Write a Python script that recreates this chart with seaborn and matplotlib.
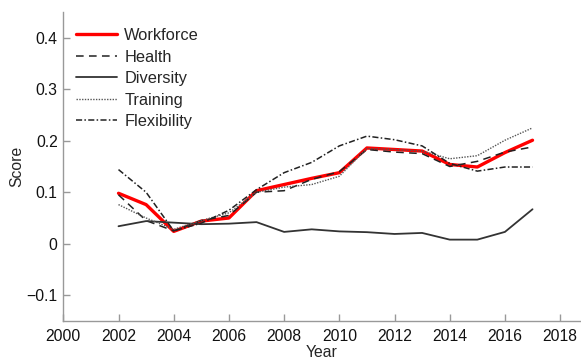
import matplotlib
matplotlib.use("Agg")
import matplotlib.pyplot as plt
import seaborn as sns
import pandas as pd
from matplotlib.ticker import FuncFormatter

years = list(range(2002, 2018))
workforce = [0.098, 0.076, 0.024, 0.044, 0.050, 0.103, 0.115, 0.127, 0.138, 0.186, 0.183, 0.180, 0.154, 0.149, 0.177, 0.201]
health = [0.095, 0.045, 0.025, 0.045, 0.055, 0.100, 0.103, 0.125, 0.140, 0.183, 0.178, 0.175, 0.150, 0.160, 0.178, 0.188]
diversity = [0.034, 0.044, 0.041, 0.038, 0.039, 0.042, 0.023, 0.028, 0.024, 0.0225, 0.019, 0.021, 0.008, 0.008, 0.023, 0.067]
training = [0.076, 0.050, 0.028, 0.045, 0.060, 0.100, 0.110, 0.115, 0.131, 0.185, 0.183, 0.180, 0.165, 0.171, 0.201, 0.225]
flexibility = [0.144, 0.100, 0.025, 0.040, 0.065, 0.105, 0.138, 0.158, 0.190, 0.209, 0.202, 0.190, 0.156, 0.141, 0.149, 0.149]

series_names = ["Workforce", "Health", "Diversity", "Training", "Flexibility"]
series_values = [workforce, health, diversity, training, flexibility]
x_ticks = [2000, 2002, 2004, 2006, 2008, 2010, 2012, 2014, 2016, 2018]
y_ticks = [-0.1, 0, 0.1, 0.2, 0.3, 0.4]

sns.set_style("white")
plt.rcParams["font.family"] = ["Liberation Sans", "DejaVu Sans"]

fig = plt.figure(figsize=(5.81, 3.60), dpi=100)
ax = fig.add_axes([63.3 / 581, (360 - 321) / 360, (580 - 63.3) / 581, (321 - 12) / 360])

styles = {
    "Workforce": dict(color="#ff0000", lw=2.4, dashes=(None, None)),
    "Health": dict(color="#222222", lw=1.1, dashes=(5, 3.5)),
    "Diversity": dict(color="#333333", lw=1.3, dashes=(None, None)),
    "Training": dict(color="#555555", lw=1.0, dashes=(1, 1)),
    "Flexibility": dict(color="#222222", lw=1.1, dashes=(4, 1.5, 1, 1.5)),
}

for name, vals in zip(series_names, series_values):
    df = pd.DataFrame({"Year": years, "Score": vals})
    st = styles[name]
    line_ax = sns.lineplot(data=df, x="Year", y="Score", ax=ax, color=st["color"],
                           linewidth=st["lw"], label=name)
    ln = line_ax.get_lines()[-1]
    if st["dashes"][0] is not None:
        ln.set_dashes(st["dashes"])

ax.set_xlim(2000, 2018.72)
ax.set_ylim(-0.15, 0.45)
ax.set_xticks(x_ticks)
ax.set_yticks(y_ticks)
ax.yaxis.set_major_formatter(FuncFormatter(lambda v, p: "0" if abs(v) < 1e-9 else f"{v:.1f}".replace("-", "\u2212")))

for s in ["top", "right"]:
    ax.spines[s].set_visible(False)
for s in ["left", "bottom"]:
    ax.spines[s].set_color("#999999")
    ax.spines[s].set_linewidth(1.0)
ax.tick_params(axis="both", bottom=True, left=True, direction="in", length=5, width=1,
               color="#999999", labelsize=11.3, labelcolor="#111111", pad=4)
ax.tick_params(axis="x", pad=6)
ax.set_xlabel("Year", fontsize=11.3, labelpad=0.5)
ax.set_ylabel("Score", fontsize=11.3, labelpad=2)

handles, labels = ax.get_legend_handles_labels()
for h, name in zip(handles, labels):
    st = styles[name]
    if st["dashes"][0] is not None:
        h.set_dashes(st["dashes"])
leg = ax.legend(handles, labels, loc="upper left", bbox_to_anchor=(76 / 581, 1 - 28 / 360),
                bbox_transform=fig.transFigure, frameon=False, fontsize=11.8,
                handlelength=2.5, handletextpad=0.45, labelspacing=0.4,
                borderpad=0, borderaxespad=0)

fig.savefig("out.png", dpi=100)
